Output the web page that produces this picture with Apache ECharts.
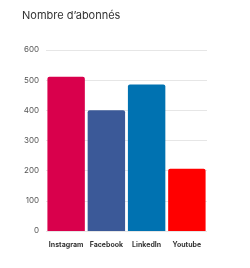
<!DOCTYPE html>
<html><head><meta charset="utf-8">
<script src="https://cdn.jsdelivr.net/npm/echarts@6/dist/echarts.min.js"></script>
<style>html,body{margin:0;padding:0;background:#fff}#c{width:250px;height:268px}</style>
</head><body><div id="c"></div>
<script>
const categories = ["Instagram", "Facebook", "LinkedIn", "Youtube"];
const values = [511, 400, 486, 206];
const colors = ["#d9004c", "#3b5998", "#0072b1", "#ff0000"];
const yTicks = [0, 100, 200, 300, 400, 500, 600];

const chart = echarts.init(document.getElementById('c'), null, {renderer: 'canvas'});
chart.setOption({
  animation: false,
  backgroundColor: '#fff',
  title: {
    text: "Nombre d’abonnés",
    left: 17, top: 5,
    textStyle: {fontFamily: 'Inter', fontSize: 11, fontWeight: 'normal', color: '#333'}
  },
  grid: {left: 46, right: 43, top: 50, bottom: 37, containLabel: false},
  xAxis: {
    type: 'category',
    data: categories,
    axisLine: {show: false},
    axisTick: {show: false},
    axisLabel: {fontFamily: 'Inter', fontSize: 7, fontWeight: 'bold', color: '#333', margin: 10, interval: 0}
  },
  yAxis: {
    type: 'value',
    min: yTicks[0], max: yTicks[yTicks.length - 1], interval: 100,
    axisLabel: {fontFamily: 'Inter', fontSize: 8, color: '#555', margin: 7},
    splitLine: {lineStyle: {color: '#e6e6e6', width: 1}},
    axisLine: {show: false}, axisTick: {show: false}
  },
  series: [{
    type: 'bar',
    data: values.map((v, i) => ({value: v, itemStyle: {color: colors[i]}})),
    barCategoryGap: '7%',
    itemStyle: {borderRadius: [2, 2, 0, 0]}
  }]
});
</script></body></html>
